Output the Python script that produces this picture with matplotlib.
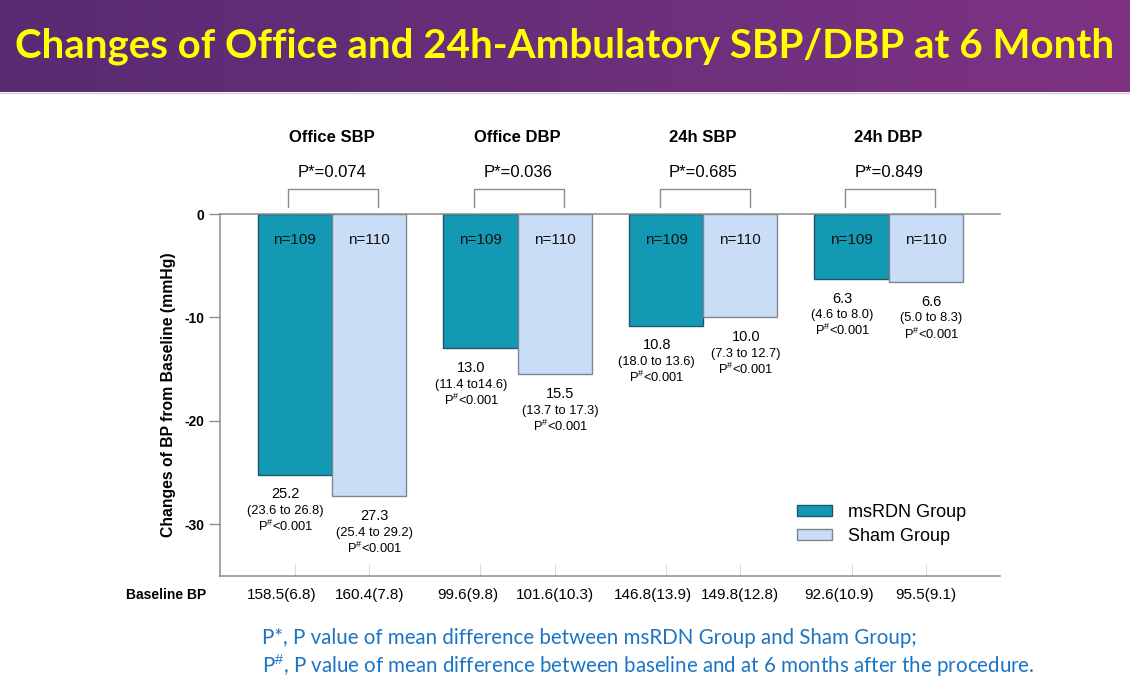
import numpy as np
import matplotlib
matplotlib.use("Agg")
import matplotlib.pyplot as plt
from matplotlib.patches import Patch

# ── Data ──────────────────────────────────────────────────────
GROUPS = ["Office SBP", "Office DBP", "24h SBP", "24h DBP"]
P_STAR = ["P*=0.074", "P*=0.036", "P*=0.685", "P*=0.849"]

RDN_CHANGE = [-25.2, -13.0, -10.8, -6.3]
SHAM_CHANGE = [-27.3, -15.5, -10.0, -6.6]
RDN_CI = ["(23.6 to 26.8)", "(11.4 to14.6)", "(18.0 to 13.6)", "(4.6 to 8.0)"]
SHAM_CI = ["(25.4 to 29.2)", "(13.7 to 17.3)", "(7.3 to 12.7)", "(5.0 to 8.3)"]
RDN_N = ["n=109"] * 4
SHAM_N = ["n=110"] * 4

RDN_BASE = ["158.5(6.8)", "99.6(9.8)", "146.8(13.9)", "92.6(10.9)"]
SHAM_BASE = ["160.4(7.8)", "101.6(10.3)", "149.8(12.8)", "95.5(9.1)"]

# ── Style ─────────────────────────────────────────────────────
plt.rcParams["font.family"] = ["Liberation Sans", "DejaVu Sans"]
plt.rcParams["mathtext.fontset"] = "custom"
plt.rcParams["mathtext.rm"] = "Liberation Sans"
plt.rcParams["axes.unicode_minus"] = False

C_RDN, E_RDN = "#1399b4", "#1d5866"
C_SHAM, E_SHAM = "#c9ddf6", "#7c8592"
GRAY = "#8c8c8c"
W = 0.40

fig = plt.figure(figsize=(11.3, 6.87), dpi=100)

# banner with gradient
bax = fig.add_axes([0, 1 - 92 / 687, 1, 92 / 687])
grad = np.linspace(0, 1, 256)[None, :]
cmap = matplotlib.colors.LinearSegmentedColormap.from_list("b", ["#582b72", "#6a2f7a", "#7f3284"])
bax.imshow(grad, aspect="auto", cmap=cmap, extent=[0, 1, 0, 1])
bax.set_axis_off()
bax.text(0.5, 0.5, "Changes of Office and 24h-Ambulatory SBP/DBP at 6 Month",
         color="#ffff00", fontsize=29, fontweight="bold", ha="center", va="center",
         family=["Lato", "Liberation Sans"])
fig.add_artist(plt.Line2D([0, 1], [1 - 93 / 687] * 2, color="#d0d0d0", lw=1))

# ── Main axes ─────────────────────────────────────────────────
ax = fig.add_axes([220 / 1130, 1 - 576 / 687, 780 / 1130, 362 / 687])
x = np.arange(len(GROUPS))
x_rdn = x - W / 2
x_sham = x + W / 2

ax.bar(x_rdn, RDN_CHANGE, W, color=C_RDN, edgecolor=E_RDN, linewidth=1, label="msRDN Group", zorder=2)
ax.bar(x_sham, SHAM_CHANGE, W, color=C_SHAM, edgecolor=E_SHAM, linewidth=1, label="Sham Group", zorder=2)

ax.set_xlim(-0.604, 3.60)
ax.set_ylim(-35, 0)
ax.set_yticks([0, -10, -20, -30])
ax.set_yticklabels(["0", "-10", "-20", "-30"], fontweight="bold", fontsize=10)
ax.set_xticks([])
ax.set_xticks(np.concatenate([x_rdn, x_sham]), minor=True)
ax.tick_params(axis="x", which="minor", direction="in", length=9, color="#dcdcdc", width=0.8)
ax.tick_params(axis="y", length=8, color=GRAY, width=1, pad=3)
for s in ["left", "bottom", "top"]:
    ax.spines[s].set_color(GRAY)
    ax.spines[s].set_linewidth(1.1)
ax.spines["right"].set_visible(False)

ax.set_ylabel("Changes of BP from Baseline (mmHg)", fontweight="bold", fontsize=11.3)
ax.yaxis.set_label_coords(-0.056, 0.5)

# n labels inside bars
for i in range(len(GROUPS)):
    ax.text(x_rdn[i], -2.5, RDN_N[i], ha="center", va="center", fontsize=11, color="#111111")
    ax.text(x_sham[i], -2.5, SHAM_N[i], ha="center", va="center", fontsize=11, color="#111111")

# value labels below bars
PHASH = r"P$^{\#}$<0.001"
for xs, vals, cis, dx in [(x_rdn, RDN_CHANGE, RDN_CI, -0.05), (x_sham, SHAM_CHANGE, SHAM_CI, 0.03)]:
    for xi, v, ci in zip(xs, vals, cis):
        ax.text(xi + dx, v - 1.9, f"{-v:.1f}", ha="center", va="center", fontsize=10.5, clip_on=False)
        ax.text(xi + dx, v - 3.5, ci, ha="center", va="center", fontsize=9.3, clip_on=False)
        ax.text(xi + dx, v - 5.0, PHASH, ha="center", va="center", fontsize=9.3, clip_on=False)

# brackets, P* and group titles above the plot
for i in range(len(GROUPS)):
    bx0, bx1 = x[i] - 0.235, x[i] + 0.25
    ax.plot([bx0, bx0, bx1, bx1], [0.7, 2.4, 2.4, 0.7], color=GRAY, lw=1, clip_on=False,
            solid_joinstyle="round")
    ax.text(x[i], 4.0, P_STAR[i], ha="center", va="center", fontsize=12, clip_on=False)
    ax.text(x[i], 7.4, GROUPS[i], ha="center", va="center", fontsize=12, fontweight="bold", clip_on=False)

# baseline BP row
ax.text(-0.68, -36.8, "Baseline BP", ha="right", va="center", fontsize=10, fontweight="bold", clip_on=False)
for i in range(len(GROUPS)):
    ax.text(x_rdn[i] - 0.07, -36.8, RDN_BASE[i], ha="center", va="center", fontsize=11, clip_on=False)
    ax.text(x_sham[i], -36.8, SHAM_BASE[i], ha="center", va="center", fontsize=11, clip_on=False)

# legend
handles = [Patch(facecolor=C_RDN, edgecolor=E_RDN, label="msRDN Group"),
           Patch(facecolor=C_SHAM, edgecolor=E_SHAM, label="Sham Group")]
ax.legend(handles=handles, loc="upper left", bbox_to_anchor=(0.74, 0.20), frameon=False,
          fontsize=13, handlelength=1.9, handleheight=0.55, handletextpad=0.9,
          labelspacing=0.42, borderpad=0, borderaxespad=0)

# footnotes
foot_kw = dict(color="#1c74c4", fontsize=14.8, ha="left", va="center",
               family=["Lato", "Liberation Sans"])
fig.text(262 / 1130, 1 - 638 / 687, "P*, P value of mean difference between msRDN Group and Sham Group;", **foot_kw)
fig.text(262 / 1130, 1 - 666 / 687, r"P$^{\#}$, P value of mean difference between baseline and at 6 months after the procedure.", **foot_kw)

fig.savefig("out.png", dpi=100)
